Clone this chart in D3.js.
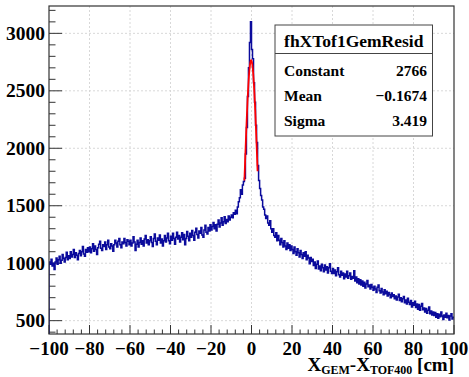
<!DOCTYPE html>
<html>
<head>
<meta charset="utf-8">
<script src="https://cdn.jsdelivr.net/npm/d3@7"></script>
<style>
  body { margin: 0; background: #fff; }
  svg text { font-family: "Liberation Serif", "Times New Roman", serif; font-weight: bold; }
</style>
</head>
<body>
<svg id="plot" width="469" height="377"></svg>
<script>
// histogram: 400 bins of 0.5 cm from -100 to 100
const binLow = -100, binWidth = 0.5;
const counts = [
  1010, 990, 1035, 975, 1000, 945, 1010, 1045, 990, 1030, 1060, 1000, 1025, 1075, 1040, 1010, 1050, 1095, 1030, 1065,
  1040, 1100, 1055, 1075, 1120, 1050, 1090, 1070, 1030, 1085, 1110, 1065, 1100, 1145, 1080, 1060, 1120, 1095, 1135, 1100,
  1140, 1090, 1125, 1170, 1105, 1150, 1120, 1075, 1135, 1165, 1190, 1130, 1110, 1160, 1145, 1185, 1120, 1160, 1200, 1140,
  1125, 1170, 1150, 1105, 1160, 1200, 1175, 1140, 1190, 1215, 1160, 1135, 1185, 1170, 1215, 1180, 1150, 1205, 1190, 1160,
  1200, 1150, 1175, 1230, 1185, 1110, 1165, 1200, 1140, 1180, 1220, 1165, 1195, 1150, 1210, 1240, 1175, 1205, 1160, 1195,
  1230, 1180, 1145, 1215, 1255, 1190, 1160, 1220, 1200, 1245, 1175, 1210, 1150, 1195, 1240, 1185, 1220, 1260, 1195, 1170,
  1235, 1200, 1260, 1215, 1165, 1225, 1270, 1210, 1240, 1185, 1225, 1265, 1205, 1250, 1160, 1215, 1275, 1235, 1195, 1260,
  1225, 1285, 1240, 1200, 1270, 1305, 1250, 1220, 1280, 1260, 1310, 1245, 1225, 1290, 1330, 1270, 1255, 1310, 1280, 1335,
  1290, 1320, 1355, 1300, 1335, 1280, 1340, 1375, 1315, 1350, 1395, 1330, 1360, 1405, 1345, 1380, 1360, 1410, 1375, 1400,
  1420, 1395, 1440, 1425, 1460, 1430, 1490, 1535, 1570, 1640, 1600, 1680, 1710, 1740, 1950, 2180, 2450, 2700, 2920, 3100,
  2860, 2780, 2570, 2400, 2200, 2050, 1850, 1720, 1650, 1590, 1550, 1490, 1470, 1420, 1390, 1410, 1350, 1330, 1370, 1300,
  1270, 1300, 1240, 1225, 1265, 1195, 1240, 1200, 1160, 1215, 1180, 1140, 1195, 1150, 1120, 1175, 1130, 1160, 1110, 1150,
  1120, 1085, 1140, 1100, 1070, 1125, 1090, 1055, 1110, 1075, 1040, 1090, 1060, 1100, 1030, 1070, 1045, 995, 1050, 1015,
  1035, 980, 1010, 955, 990, 1020, 950, 975, 935, 990, 960, 925, 985, 940, 970, 915, 960, 995, 930, 910,
  955, 910, 940, 890, 925, 960, 900, 880, 930, 895, 915, 865, 905, 880, 930, 870, 890, 915, 860, 885,
  870, 935, 845, 880, 830, 865, 820, 855, 810, 845, 800, 835, 785, 820, 850, 795, 810, 775, 815, 790,
  765, 800, 775, 745, 790, 810, 760, 740, 780, 750, 725, 770, 735, 755, 715, 745, 725, 700, 740, 710,
  725, 690, 715, 680, 705, 730, 675, 700, 665, 690, 710, 655, 680, 645, 695, 660, 640, 675, 620, 655,
  635, 670, 615, 645, 600, 640, 590, 625, 650, 595, 610, 575, 605, 565, 590, 620, 560, 585, 550, 575,
  545, 570, 530, 560, 520, 555, 535, 575, 540, 510, 550, 530, 565, 525, 545, 505, 540, 560, 515, 530
];

// gaussian fit parameters (stats box)
const fitName = 'fhXTof1GemResid';
const fitLabels = ['Constant', 'Mean', 'Sigma'];
const fitValues = ['2766', '\u22120.1674', '3.419'];
const fitConstant = 2766, fitMean = -0.1674, fitSigma = 3.419;
const fitRange = [-3.5, 3.0];

const xTicks = [-100, -80, -60, -40, -20, 0, 20, 40, 60, 80, 100];
const yTicks = [500, 1000, 1500, 2000, 2500, 3000];

const frame = { l: 49, r: 454, t: 6, b: 334 };
const svg = d3.select('#plot');

const x = d3.scaleLinear().domain([-100, 100]).range([frame.l, frame.r]);
const y = d3.scaleLinear().domain([384, 3238]).range([frame.b, frame.t]);

// grid
const grid = svg.append('g').attr('stroke', '#d8d8d8').attr('stroke-dasharray', '2,2').attr('stroke-width', 1);
xTicks.slice(1, -1).forEach((v) => {
  grid.append('line').attr('x1', x(v)).attr('x2', x(v)).attr('y1', frame.t).attr('y2', frame.b);
});
yTicks.forEach((v) => {
  grid.append('line').attr('x1', frame.l).attr('x2', frame.r).attr('y1', y(v)).attr('y2', y(v));
});

// ticks
const ticks = svg.append('g').attr('stroke', '#333').attr('stroke-width', 1);
d3.range(-100, 100.1, 4).forEach((v) => {
  const major = Math.abs(v % 20) < 1e-6;
  ticks.append('line').attr('x1', x(v)).attr('x2', x(v))
    .attr('y1', frame.b).attr('y2', frame.b - (major ? 9 : 4.5));
});
d3.range(400, 3201, 100).forEach((v) => {
  const major = v % 500 == 0;
  ticks.append('line').attr('x1', frame.l).attr('x2', frame.l + (major ? 13 : 6.5))
    .attr('y1', y(v)).attr('y2', y(v));
});

// tick labels
xTicks.forEach((v) => {
  svg.append('text')
    .text(v < 0 ? '\u2212' + Math.abs(v) : v)
    .attr('x', x(v)).attr('y', 354.5)
    .attr('text-anchor', 'middle')
    .attr('font-size', 19);
});
yTicks.forEach((v) => {
  svg.append('text')
    .text(v)
    .attr('x', 45).attr('y', y(v) + 6.5)
    .attr('text-anchor', 'end')
    .attr('font-size', 19.5);
});

// axis title
const title = svg.append('text')
  .attr('x', 454).attr('y', 371)
  .attr('text-anchor', 'end')
  .attr('font-size', 19);
title.append('tspan').text('X');
title.append('tspan').text('GEM').attr('font-size', 12).attr('dy', 3);
title.append('tspan').text('-X').attr('dy', -3);
title.append('tspan').text('TOF400').attr('font-size', 12).attr('dy', 3);
title.append('tspan').text(' [cm]').attr('dy', -3);

// histogram
svg.append('clipPath').attr('id', 'frameClip')
  .append('rect').attr('x', frame.l).attr('y', frame.t)
  .attr('width', frame.r - frame.l).attr('height', frame.b - frame.t);

const histPoints = [[binLow, y.domain()[0]]]
  .concat(counts.map((c, i) => [binLow + i * binWidth, c]))
  .concat([[binLow + counts.length * binWidth, counts[counts.length - 1]]]);
const stepLine = d3.line()
  .x((d) => x(d[0]))
  .y((d) => y(d[1]))
  .curve(d3.curveStepAfter);

svg.append('path')
  .attr('d', stepLine(histPoints))
  .attr('fill', 'none')
  .attr('stroke', '#0b0b9c')
  .attr('stroke-width', 1.5)
  .attr('clip-path', 'url(#frameClip)');

// fit curve
const fitPoints = d3.range(fitRange[0], fitRange[1] + 0.001, 0.05).map((v) =>
  [v, fitConstant * Math.exp(-0.5 * Math.pow((v - fitMean) / fitSigma, 2))]);
svg.append('path')
  .attr('d', d3.line().x((d) => x(d[0])).y((d) => y(d[1]))(fitPoints))
  .attr('fill', 'none')
  .attr('stroke', '#ff0000')
  .attr('stroke-width', 1.8);

// frame
svg.append('rect')
  .attr('x', frame.l).attr('y', frame.t)
  .attr('width', frame.r - frame.l).attr('height', frame.b - frame.t)
  .attr('fill', 'none').attr('stroke', '#333').attr('stroke-width', 1.2);

// stats box
const box = { l: 275, r: 432.5, t: 25, b: 136, sep: 53.5 };
svg.append('rect')
  .attr('x', box.l).attr('y', box.t)
  .attr('width', box.r - box.l).attr('height', box.b - box.t)
  .attr('fill', '#fff').attr('stroke', '#444').attr('stroke-width', 1);
svg.append('line')
  .attr('x1', box.l).attr('x2', box.r).attr('y1', box.sep).attr('y2', box.sep)
  .attr('stroke', '#444').attr('stroke-width', 1);
svg.append('text')
  .text(fitName)
  .attr('x', (box.l + box.r) / 2).attr('y', 47)
  .attr('text-anchor', 'middle')
  .attr('font-size', 17.5);
fitLabels.forEach((label, i) => {
  const rowY = 76 + i * 25;
  svg.append('text').text(label)
    .attr('x', 284).attr('y', rowY)
    .attr('font-size', 15.5);
  svg.append('text').text(fitValues[i])
    .attr('x', 427).attr('y', rowY)
    .attr('text-anchor', 'end')
    .attr('font-size', 15.5);
});
</script>
</body>
</html>
